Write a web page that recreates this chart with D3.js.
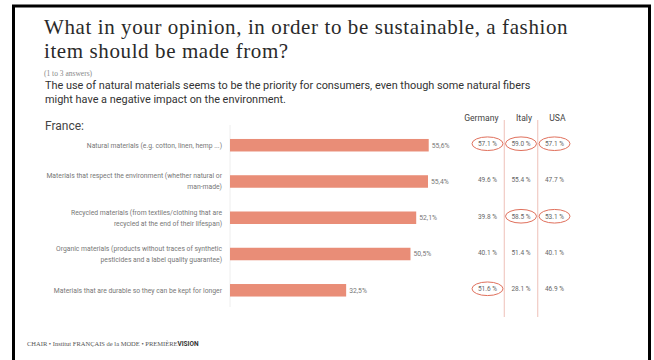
<!DOCTYPE html>
<html>
<head>
<meta charset="utf-8">
<script src="https://cdn.jsdelivr.net/npm/d3@7"></script>
<style>
  html, body { margin: 0; padding: 0; background: #fff; }
  svg { display: block; }
</style>
</head>
<body>
<svg id="chart" width="654" height="360"></svg>
<script>
// Survey answers: France (bars) and the three comparison countries (table)
const categories = [
  "Natural materials (e.g. cotton, linen, hemp ...)",
  "Materials that respect the environment (whether natural or|man-made)",
  "Recycled materials (from textiles/clothing that are|recycled at the end of their lifespan)",
  "Organic materials (products without traces of synthetic|pesticides and a label quality guarantee)",
  "Materials that are durable so they can be kept for longer"
];
const franceValues = [55.6, 55.4, 52.1, 50.5, 32.5];

const countries = ["Germany", "Italy", "USA"];
const germanyValues = [57.1, 49.6, 39.8, 40.1, 51.6];
const italyValues   = [59.0, 55.4, 58.5, 51.4, 28.1];
const usaValues     = [57.1, 47.7, 53.1, 40.1, 46.9];
// answers ranked highest in each country are ringed
const germanyRinged = [true, false, false, false, true];
const italyRinged   = [true, false, true, false, false];
const usaRinged     = [true, false, true, false, false];

const titleLines = [
  "What in your opinion, in order to be sustainable, a fashion",
  "item should be made from?"
];
const noteText = "(1 to 3 answers)";
const subtitleLines = [
  "The use of natural materials seems to be the priority for consumers, even though some natural fibers",
  "might have a negative impact on the environment."
];
const groupLabel = "France:";

const countryTable = countries.map((c, i) => ({
  country: c,
  values: [germanyValues, italyValues, usaValues][i],
  ringed: [germanyRinged, italyRinged, usaRinged][i]
}));

const svg = d3.select("#chart");
const barColor = "#e98d77";
const ringColor = "#e0705c";
const sans = "Roboto, 'Noto Sans', sans-serif";
const serif = "'Liberation Serif', 'DejaVu Serif', serif";

// frame (open at the bottom)
svg.append("path")
  .attr("d", "M13.5,362V6H649.5V362")
  .attr("fill", "none")
  .attr("stroke", "#000")
  .attr("stroke-width", 3);

// heading block
svg.append("g").selectAll("text").data(titleLines).join("text")
  .attr("x", 44)
  .attr("y", (d, i) => 34 + i * 24)
  .attr("font-family", serif)
  .attr("font-size", 21)
  .attr("letter-spacing", 0.6)
  .attr("fill", "#2a2a2a")
  .text(d => d);

svg.append("text")
  .attr("x", 44).attr("y", 75.5)
  .attr("font-family", serif)
  .attr("font-size", 7.5)
  .attr("fill", "#888")
  .text(noteText);

svg.append("g").selectAll("text").data(subtitleLines).join("text")
  .attr("x", 45)
  .attr("y", (d, i) => 89 + i * 13.5)
  .attr("font-family", sans)
  .attr("font-size", 10.9)
  .attr("fill", "#333")
  .text(d => d);

svg.append("text")
  .attr("x", 45).attr("y", 129.5)
  .attr("font-family", sans)
  .attr("font-size", 12)
  .attr("fill", "#444")
  .text(groupLabel);

// scales
const x = d3.scaleLinear().domain([0, 100]).range([230, 587.4]);
const y = d3.scaleBand().domain(categories).range([127, 308.5])
  .paddingInner(0.655).paddingOuter(0.33);
const yc = d => y(d) + y.bandwidth() / 2;

// baseline of the bars
svg.append("line")
  .attr("x1", x(0)).attr("x2", x(0))
  .attr("y1", 125).attr("y2", 307)
  .attr("stroke", "#eeeeee").attr("stroke-width", 1);

// bars
svg.append("g").selectAll("rect").data(categories).join("rect")
  .attr("x", x(0))
  .attr("y", d => y(d))
  .attr("width", (d, i) => x(franceValues[i]) - x(0))
  .attr("height", y.bandwidth())
  .attr("fill", barColor);

// value labels
const fmt = v => d3.format(".1f")(v).replace(".", ",") + "%";
svg.append("g").selectAll("text").data(categories).join("text")
  .attr("x", (d, i) => x(franceValues[i]) + 3)
  .attr("y", d => yc(d) + 2.4)
  .attr("font-family", sans)
  .attr("font-size", 6.8)
  .attr("fill", "#777")
  .text((d, i) => fmt(franceValues[i]));

// category labels, right aligned, wrapped where marked
const labelG = svg.append("g");
categories.forEach(cat => {
  const lines = cat.split("|");
  const lh = 11;
  const t = labelG.append("text")
    .attr("text-anchor", "end")
    .attr("font-family", sans)
    .attr("font-size", 6.8)
    .attr("fill", "#777");
  lines.forEach((ln, j) => {
    t.append("tspan")
      .attr("x", 222)
      .attr("y", yc(cat) + 2.3 + (j - (lines.length - 1) / 2) * lh)
      .text(ln);
  });
});

// comparison table
const cx = d3.scalePoint().domain(countries).range([487.5, 554.5]);
const colStep = cx.step();

svg.append("g").selectAll("line").data(countries.slice(1)).join("line")
  .attr("x1", d => cx(d) - colStep / 2)
  .attr("x2", d => cx(d) - colStep / 2)
  .attr("y1", 120).attr("y2", 317)
  .attr("stroke", "#eec0b8").attr("stroke-width", 1);

svg.append("g").selectAll("text").data(countries).join("text")
  .attr("x", d => cx(d) + 11)
  .attr("y", 121)
  .attr("text-anchor", "end")
  .attr("font-family", sans)
  .attr("font-size", 8.6)
  .attr("fill", "#444")
  .text(d => d);

const cells = countryTable.flatMap(col =>
  col.values.map((v, i) => ({ country: col.country, cat: categories[i], value: v, ringed: col.ringed[i] })));

svg.append("g").selectAll("text").data(cells).join("text")
  .attr("x", d => cx(d.country))
  .attr("y", d => yc(d.cat) + 0.8)
  .attr("text-anchor", "middle")
  .attr("font-family", sans)
  .attr("font-size", 6.5)
  .attr("fill", "#666")
  .text(d => d3.format(".1f")(d.value) + " %");

svg.append("g").selectAll("ellipse").data(cells.filter(d => d.ringed)).join("ellipse")
  .attr("cx", d => cx(d.country))
  .attr("cy", d => yc(d.cat) - 1.5)
  .attr("rx", 15.5)
  .attr("ry", 6.8)
  .attr("fill", "none")
  .attr("stroke", ringColor)
  .attr("stroke-width", 1);

// footer credits
const foot = svg.append("text")
  .attr("x", 27).attr("y", 346)
  .attr("font-size", 6.5)
  .attr("fill", "#555");
foot.append("tspan").attr("font-family", serif).text("CHAIR • Institut FRANÇAIS de la MODE • PREMIÈRE");
foot.append("tspan").attr("font-family", sans).attr("font-weight", "bold").attr("fill", "#333").text("VISION");
</script>
</body>
</html>
